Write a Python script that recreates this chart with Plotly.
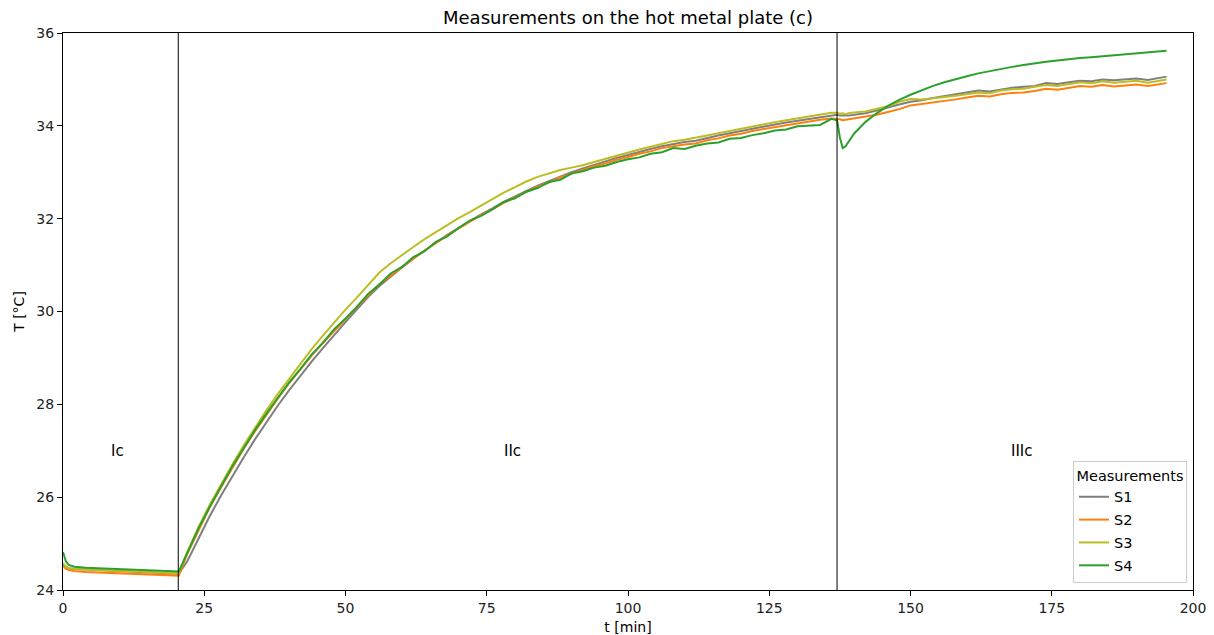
import plotly.graph_objects as go

# time grid [min]
t = [0, 0.5, 1, 2, 4, 6, 8, 10, 12, 14, 16, 18, 20, 20.5,
     22, 24, 26, 28, 30, 32, 34, 36, 38, 40, 42, 44, 46, 48, 50, 52, 54, 56, 58, 60,
     62, 64, 66, 68, 70, 72, 74, 76, 78, 80, 82, 84, 86, 88, 90, 92, 94, 96, 98, 100,
     102, 104, 106, 108, 110, 112, 114, 116, 118, 120, 122, 124, 126, 128, 130, 132, 134, 136,
     137, 137.5, 138, 138.5, 139, 140,
     142, 144, 146, 148, 150, 152, 154, 156, 158, 160, 162, 164, 166, 168, 170, 172, 174, 176,
     178, 180, 182, 184, 186, 188, 190, 192, 194, 195.3]

s1 = [24.55, 24.50, 24.47, 24.45, 24.44, 24.43, 24.42, 24.41, 24.40, 24.39, 24.38, 24.37, 24.36, 24.35,
      24.62, 25.12, 25.60, 26.04, 26.46, 26.86, 27.25, 27.62, 27.97, 28.30, 28.62, 28.92, 29.21, 29.50, 29.77, 30.04, 30.31, 30.55, 30.76, 30.95,
      31.14, 31.32, 31.48, 31.65, 31.80, 31.95, 32.09, 32.22, 32.36, 32.48, 32.60, 32.71, 32.81, 32.91, 33.00, 33.08, 33.16, 33.23, 33.31, 33.37,
      33.44, 33.50, 33.56, 33.61, 33.65, 33.68, 33.74, 33.79, 33.84, 33.89, 33.94, 33.98, 34.03, 34.07, 34.11, 34.15, 34.19, 34.23,
      34.24, 34.22, 34.22, 34.21, 34.22, 34.24,
      34.27, 34.33, 34.40, 34.46, 34.52, 34.55, 34.60, 34.64, 34.68, 34.71, 34.76, 34.74, 34.78, 34.82, 34.84, 34.86, 34.92, 34.90,
      34.94, 34.97, 34.96, 35.00, 34.98, 35.00, 35.02, 34.99, 35.04, 35.06]

s2 = [24.52, 24.46, 24.43, 24.41, 24.39, 24.38, 24.37, 24.36, 24.35, 24.34, 24.33, 24.32, 24.31, 24.31,
      24.78, 25.30, 25.79, 26.22, 26.64, 27.05, 27.42, 27.78, 28.12, 28.45, 28.75, 29.05, 29.32, 29.58, 29.84, 30.11, 30.35, 30.59, 30.78, 30.97,
      31.14, 31.32, 31.47, 31.64, 31.79, 31.94, 32.08, 32.20, 32.34, 32.46, 32.57, 32.69, 32.78, 32.89, 32.97, 33.05, 33.13, 33.19, 33.27, 33.33,
      33.40, 33.45, 33.52, 33.56, 33.60, 33.62, 33.69, 33.73, 33.79, 33.83, 33.89, 33.93, 33.97, 34.02, 34.05, 34.09, 34.13, 34.16,
      34.15, 34.14, 34.12, 34.13, 34.15, 34.17,
      34.20, 34.24, 34.30, 34.36, 34.44, 34.47, 34.50, 34.53, 34.57, 34.61, 34.65, 34.63, 34.68, 34.71, 34.72, 34.75, 34.80, 34.78,
      34.82, 34.86, 34.84, 34.88, 34.85, 34.87, 34.89, 34.86, 34.90, 34.92]

s3 = [24.58, 24.50, 24.47, 24.45, 24.44, 24.43, 24.42, 24.41, 24.40, 24.39, 24.38, 24.37, 24.36, 24.36,
      24.82, 25.36, 25.84, 26.29, 26.71, 27.12, 27.50, 27.87, 28.22, 28.55, 28.88, 29.19, 29.48, 29.77, 30.04, 30.30, 30.58, 30.84, 31.04, 31.22,
      31.39, 31.56, 31.71, 31.86, 32.01, 32.14, 32.28, 32.42, 32.56, 32.68, 32.80, 32.90, 32.97, 33.05, 33.10, 33.15, 33.22, 33.29, 33.36, 33.43,
      33.49, 33.55, 33.61, 33.67, 33.70, 33.74, 33.79, 33.84, 33.89, 33.94, 33.99, 34.04, 34.08, 34.12, 34.16, 34.20, 34.24, 34.28,
      34.28, 34.26, 34.27, 34.25, 34.27, 34.29,
      34.31, 34.36, 34.42, 34.52, 34.58, 34.57, 34.59, 34.62, 34.65, 34.68, 34.72, 34.70, 34.76, 34.79, 34.80, 34.84, 34.88, 34.86,
      34.90, 34.94, 34.92, 34.96, 34.93, 34.95, 34.97, 34.93, 34.98, 35.00]

s4 = [24.82, 24.62, 24.54, 24.50, 24.48, 24.47, 24.46, 24.45, 24.44, 24.43, 24.42, 24.41, 24.40, 24.40,
      24.80, 25.33, 25.80, 26.25, 26.67, 27.06, 27.45, 27.80, 28.13, 28.47, 28.76, 29.07, 29.33, 29.62, 29.85, 30.10, 30.38, 30.58, 30.82, 30.96,
      31.17, 31.30, 31.50, 31.62, 31.80, 31.96, 32.06, 32.20, 32.36, 32.44, 32.58, 32.66, 32.79, 32.84, 32.97, 33.02, 33.10, 33.14, 33.22, 33.28,
      33.32, 33.40, 33.43, 33.52, 33.50, 33.57, 33.62, 33.64, 33.72, 33.74, 33.80, 33.84, 33.90, 33.92, 33.99, 34.00, 34.02, 34.15,
      34.12, 33.75, 33.52, 33.56, 33.66, 33.83,
      34.08, 34.27, 34.43, 34.56, 34.67, 34.77, 34.86, 34.94, 35.01, 35.07, 35.13, 35.18, 35.23, 35.27, 35.31, 35.35, 35.38, 35.41,
      35.44, 35.46, 35.48, 35.50, 35.52, 35.54, 35.56, 35.58, 35.60, 35.62]

series_names = ["S1", "S2", "S3", "S4"]
series_colors = ["#7f7f7f", "#ff7f0e", "#bcbd22", "#2ca02c"]

phase_bounds = [20.4, 137.0]
phase_labels = ["Ic", "IIc", "IIIc"]
phase_label_t = [9.7, 79.6, 169.7]
phase_label_T = 27.0

x_ticks = [0, 25, 50, 75, 100, 125, 150, 175, 200]
y_ticks = [24, 26, 28, 30, 32, 34, 36]

FONT = "DejaVu Sans, Arial, sans-serif"

fig = go.Figure()
for i, (name, ys) in enumerate(zip(series_names, [s1, s2, s3, s4])):
    fig.add_trace(go.Scatter(
        x=t, y=ys, mode="lines", name=name,
        line=dict(color=series_colors[i], width=2),
        legendgroup=name,
    ))

for xb in phase_bounds:
    fig.add_shape(type="line", xref="x", yref="paper", x0=xb, x1=xb, y0=0, y1=1,
                  line=dict(color="black", width=1))

for lab, xt in zip(phase_labels, phase_label_t):
    fig.add_annotation(x=xt, y=phase_label_T, xref="x", yref="y", text=lab,
                       showarrow=False, font=dict(family=FONT, size=15, color="black"))

axis_common = dict(
    showline=True, linecolor="black", linewidth=1, mirror=True,
    ticks="outside", ticklen=5, tickwidth=1, tickcolor="black",
    showgrid=False, zeroline=False, automargin=False,
    tickfont=dict(family=FONT, size=14, color="#222222"),
)

fig.update_layout(
    width=1214, height=635,
    margin=dict(l=63, r=21, t=33, b=45),
    paper_bgcolor="white", plot_bgcolor="white",
    title=dict(text="Measurements on the hot metal plate (c)", x=(63 + 1130 / 2) / 1214, xanchor="center",
               y=1 - 18 / 635, yanchor="middle", font=dict(family=FONT, size=18, color="black")),
    xaxis=dict(range=[0, 200], tickvals=x_ticks,
               title=dict(text="t [min]", font=dict(family=FONT, size=14, color="black"), standoff=8),
               **axis_common),
    yaxis=dict(range=[24, 36], tickvals=y_ticks,
               title=dict(text="T [°C]", font=dict(family=FONT, size=14, color="black"), standoff=8),
               **axis_common),
    legend=dict(
        title=dict(text="Measurements", font=dict(family=FONT, size=14.5, color="black"), side="top center"),
        x=0.9947, y=0.0126, xanchor="right", yanchor="bottom",
        bgcolor="rgba(255,255,255,0.8)", bordercolor="#cccccc", borderwidth=1,
        font=dict(family=FONT, size=14.5, color="black"),
        tracegroupgap=1,
    ),
    showlegend=True,
)

fig.write_html("out.html")
